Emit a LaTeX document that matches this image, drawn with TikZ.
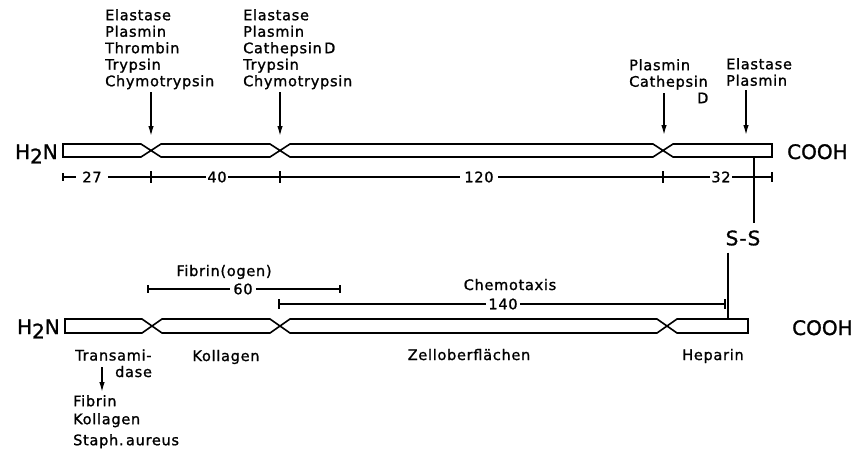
\documentclass[tikz,border=0pt]{standalone}
\usepackage{fontspec}
\setmainfont{DejaVu Sans}
\newfontfamily\lblfont[LetterSpace=5,FakeBold=1.2]{DejaVu Sans}
\newfontfamily\endfont[FakeBold=1.2]{DejaVu Sans}
\usetikzlibrary{arrows.meta}

\begin{document}
\begin{tikzpicture}[x=1pt,y=-1pt,
  ribbon/.style={line width=1.6pt, line join=miter},
  scaleline/.style={line width=1.1pt},
  cut/.style={line width=1.4pt,-{Latex[length=10pt,width=5.5pt]}},
  lbl/.style={font=\lblfont\fontsize{14.5}{16.5}\selectfont, inner sep=0pt, align=left},
  num/.style={font=\lblfont\fontsize{14.5}{16}\selectfont, inner sep=2pt},
  term/.style={font=\endfont\fontsize{20}{24}\selectfont, inner sep=0pt},
]
\useasboundingbox (0,0) rectangle (851,450);

% ---------- upper chain ----------
\draw[ribbon] (63,144) -- (141,144) -- (161,157) -- (270,157) -- (290,144)
  -- (653,144) -- (673,157) -- (772,157) -- (772,144) -- (673,144)
  -- (653,157) -- (290,157) -- (270,144) -- (161,144) -- (141,157)
  -- (63,157) -- cycle;
\node[term, anchor=base east] (nterm1) at (58,159) {H\raisebox{-0.22em}{2}N};
\node[term, anchor=base west] (cterm1) at (787,159) {COOH};

% cleavage sites
\node[lbl, anchor=north west] (cut1) at (105,9)
  {Elastase\\Plasmin\\Thrombin\\Trypsin\\Chymotrypsin};
\node[lbl, anchor=north west] (cut2) at (243,9)
  {Elastase\\Plasmin\\Cathepsin\,D\\Trypsin\\Chymotrypsin};
\node[lbl, anchor=north west] (cut3) at (629,59)
  {Plasmin\\Cathepsin\\\hspace*{68pt}D};
\node[lbl, anchor=north west] (cut4) at (726,58)
  {Elastase\\Plasmin};

\coordinate (a1s) at (151,92);  \coordinate (a1e) at (151,136);
\coordinate (a2s) at (280,92);  \coordinate (a2e) at (280,136);
\coordinate (a3s) at (664,93);  \coordinate (a3e) at (664,135);
\coordinate (a4s) at (746,90);  \coordinate (a4e) at (746,135);
\draw[cut] (a1s) -- (a1e);
\draw[cut] (a2s) -- (a2e);
\draw[cut] (a3s) -- (a3e);
\draw[cut] (a4s) -- (a4e);

% domain lengths
\coordinate (t0) at (63,177);
\coordinate (t1) at (151,177);
\coordinate (t2) at (280,177);
\coordinate (t3) at (663,177);
\coordinate (t4) at (772,177);
\node[num, inner sep=6pt] (n27) at (92,177) {27};
\node[num, inner sep=1pt] (n40) at (217,177) {40};
\node[num, inner sep=4pt] (n120) at (479,177) {120};
\node[num, inner sep=1.5pt] (n32) at (721,177) {32};
\draw[scaleline] (t0) -- (n27) -- (t1) -- (n40) -- (t2) -- (n120) -- (t3) -- (n32) -- (t4);
\draw[scaleline] (t0) ++(0,-4) -- ++(0,8);
\foreach \t in {t1,t2,t3} \draw[scaleline] (\t) ++(0,-6) -- ++(0,12);
\draw[scaleline] (t4) ++(0,-5) -- ++(0,10);

% ---------- disulfide bridge ----------
\node[term, outer sep=7pt] (ss) at (743,238) {S\kern1pt-\kern1pt S};
\coordinate (ssup) at (754,157);
\coordinate (ssdown) at (728,319);
\draw[line width=1.4pt] (ssup) -- (ssup |- ss.north);
\draw[line width=1.4pt] (ssdown |- ss.south) -- (ssdown);

% ---------- lower chain ----------
\draw[ribbon] (65,319) -- (142,319) -- (162,333) -- (270,333) -- (290,319)
  -- (657,319) -- (677,333) -- (748,333) -- (748,319) -- (677,319)
  -- (657,333) -- (290,333) -- (270,319) -- (162,319) -- (142,333)
  -- (65,333) -- cycle;
\node[term, anchor=base east] (nterm2) at (60,334) {H\raisebox{-0.22em}{2}N};
\node[term, anchor=base west] (cterm2) at (792,335) {COOH};

% binding regions
\node[lbl, anchor=base] (fibog) at (224,276) {Fibrin(ogen)};
\coordinate (f0) at (148,289);
\coordinate (f1) at (340,289);
\node[num, inner sep=3pt] (n60) at (243,289) {60};
\draw[scaleline] (f0) -- (n60) -- (f1);
\foreach \t in {f0,f1} \draw[scaleline] (\t) ++(0,-4) -- ++(0,8);

\node[lbl, anchor=base] (chemo) at (510,290) {Chemotaxis};
\coordinate (k0) at (279,304);
\coordinate (k1) at (725,304);
\node[num, inner sep=2pt] (n140) at (503,304) {140};
\draw[scaleline] (k0) -- (n140) -- (k1);
\foreach \t in {k0,k1} \draw[scaleline] (\t) ++(0,-5) -- ++(0,10);

% the base anchor of a two-line node sits on its last line
\node[lbl, anchor=base west] (transam) at (75,377) {Transami-\\\hspace*{40pt}dase};
\node[lbl, anchor=base] (koll) at (226,361) {Kollagen};
\node[lbl, anchor=base] (zell) at (469,360) {Zelloberflächen};
\node[lbl, anchor=base] (hep) at (713,360) {Heparin};

\node[lbl, anchor=north west] (ligands) at (73,395)
  {Fibrin\\[1.5pt]Kollagen\\[4.5pt]Staph.\,aureus};
\coordinate (ts) at (102,367);
\coordinate (te) at (102,392);
\draw[cut] (ts) -- (te);
\end{tikzpicture}
\end{document}
